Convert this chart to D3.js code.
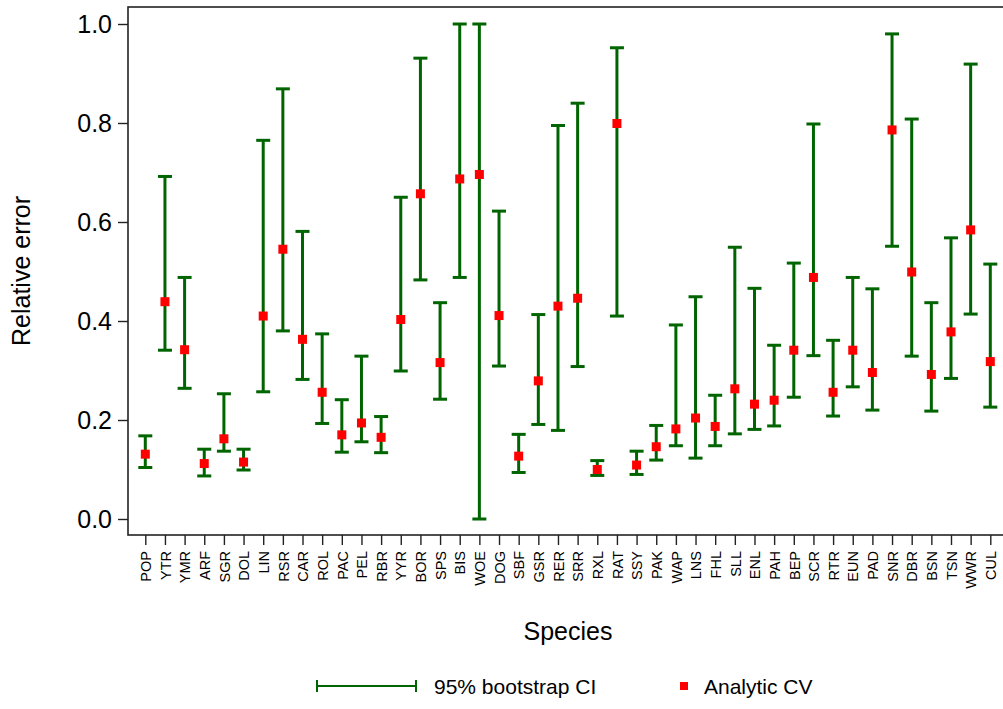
<!DOCTYPE html>
<html>
<head>
<meta charset="utf-8">
<script src="https://cdn.jsdelivr.net/npm/d3@7"></script>
<style>
  html, body { margin: 0; padding: 0; background: #fff; }
  svg { display: block; font-family: "Liberation Sans", Arial, sans-serif; }
</style>
</head>
<body>
<svg id="chart" width="1003" height="709"></svg>
<script>
const species = ["POP","YTR","YMR","ARF","SGR","DOL","LIN","RSR","CAR","ROL","PAC","PEL","RBR","YYR","BOR","SPS","BIS","WOE","DOG","SBF","GSR","RER","SRR","RXL","RAT","SSY","PAK","WAP","LNS","FHL","SLL","ENL","PAH","BEP","SCR","RTR","EUN","PAD","SNR","DBR","BSN","TSN","WWR","CUL"];
const analyticCV = [0.131,0.439,0.342,0.112,0.162,0.115,0.410,0.545,0.363,0.256,0.170,0.194,0.165,0.403,0.657,0.316,0.687,0.696,0.411,0.127,0.279,0.430,0.446,0.100,0.799,0.109,0.146,0.182,0.204,0.187,0.263,0.232,0.240,0.341,0.488,0.256,0.341,0.296,0.786,0.499,0.292,0.378,0.584,0.318];
const ciLower = [0.104,0.341,0.264,0.087,0.137,0.099,0.257,0.380,0.282,0.193,0.135,0.156,0.134,0.299,0.483,0.242,0.488,0.000,0.309,0.094,0.191,0.179,0.308,0.088,0.410,0.090,0.119,0.148,0.123,0.148,0.172,0.181,0.188,0.246,0.330,0.208,0.267,0.220,0.551,0.329,0.218,0.284,0.414,0.226];
const ciUpper = [0.168,0.692,0.488,0.141,0.253,0.141,0.765,0.869,0.581,0.374,0.241,0.329,0.207,0.650,0.931,0.437,1.000,1.000,0.622,0.171,0.413,0.795,0.840,0.118,0.952,0.137,0.189,0.392,0.449,0.250,0.549,0.466,0.351,0.517,0.798,0.361,0.488,0.465,0.980,0.808,0.437,0.568,0.919,0.515];
const yTicks = [0, 0.2, 0.4, 0.6, 0.8, 1.0];

const data = species.map((s, i) => ({s, cv: analyticCV[i], lo: ciLower[i], hi: ciUpper[i]}));

const svg = d3.select("#chart");
const green = "#006400", red = "#ff0000";

const plot = {left: 128, right: 1008, top: 7, bottom: 535};

const x = d3.scalePoint().domain(species).range([145.3, 990.3]);
const y = d3.scaleLinear().domain([0, 1]).range([519, 24]);

// frame
svg.append("rect")
  .attr("x", plot.left).attr("y", plot.top)
  .attr("width", plot.right - plot.left).attr("height", plot.bottom - plot.top)
  .attr("fill", "none").attr("stroke", "#222").attr("stroke-width", 1.6);

// y axis
const yAxis = svg.append("g").attr("transform", `translate(${plot.left},0)`)
  .call(d3.axisLeft(y).tickValues(yTicks).tickFormat(d3.format(".1f")).tickSize(10).tickPadding(6));
yAxis.select(".domain").remove();
yAxis.selectAll(".tick line").attr("stroke", "#222").attr("stroke-width", 1.4);
yAxis.selectAll(".tick text").attr("font-size", 25).attr("fill", "#000")
  .attr("font-family", "Liberation Sans, Arial, sans-serif");

// x axis
const xAxis = svg.append("g").attr("transform", `translate(0,${plot.bottom})`)
  .call(d3.axisBottom(x).tickSize(10).tickPadding(0));
xAxis.select(".domain").remove();
xAxis.selectAll(".tick line").attr("stroke", "#222").attr("stroke-width", 1.4);
xAxis.selectAll(".tick text")
  .attr("font-size", 14.5).attr("fill", "#000")
  .attr("font-family", "Liberation Sans, Arial, sans-serif")
  .attr("text-anchor", "end")
  .attr("transform", "rotate(-90)")
  .attr("x", -16).attr("y", 0).attr("dy", "0.36em");

// error bars
const cap = 7;
const bars = svg.append("g").attr("stroke", green).attr("stroke-width", 3).attr("fill", "none");
bars.selectAll("line.v").data(data).join("line").attr("class", "v")
  .attr("x1", d => x(d.s)).attr("x2", d => x(d.s))
  .attr("y1", d => y(d.lo)).attr("y2", d => y(d.hi));
bars.selectAll("line.t").data(data).join("line").attr("class", "t")
  .attr("x1", d => x(d.s) - cap).attr("x2", d => x(d.s) + cap)
  .attr("y1", d => y(d.hi)).attr("y2", d => y(d.hi));
bars.selectAll("line.b").data(data).join("line").attr("class", "b")
  .attr("x1", d => x(d.s) - cap).attr("x2", d => x(d.s) + cap)
  .attr("y1", d => y(d.lo)).attr("y2", d => y(d.lo));

// points
const sq = 9;
svg.append("g").selectAll("rect").data(data).join("rect")
  .attr("x", d => x(d.s) - sq / 2).attr("y", d => y(d.cv) - sq / 2)
  .attr("width", sq).attr("height", sq).attr("fill", red);

// axis titles
svg.append("text")
  .attr("transform", `translate(30,271) rotate(-90)`)
  .attr("text-anchor", "middle").attr("font-size", 25).attr("fill", "#000")
  .text("Relative error");
svg.append("text")
  .attr("x", 568).attr("y", 640)
  .attr("text-anchor", "middle").attr("font-size", 25).attr("fill", "#000")
  .text("Species");

// legend
const lg = svg.append("g");
const ly = 686;
lg.append("line").attr("x1", 317).attr("x2", 416).attr("y1", ly).attr("y2", ly)
  .attr("stroke", green).attr("stroke-width", 2);
[317, 416].forEach(px => lg.append("line").attr("x1", px).attr("x2", px)
  .attr("y1", ly - 6).attr("y2", ly + 6).attr("stroke", green).attr("stroke-width", 2));
lg.append("text").attr("x", 434).attr("y", ly + 8).attr("font-size", 21).attr("fill", "#000")
  .text("95% bootstrap CI");
lg.append("rect").attr("x", 680).attr("y", ly - 4).attr("width", 8).attr("height", 8).attr("fill", red);
lg.append("text").attr("x", 704).attr("y", ly + 8).attr("font-size", 21).attr("fill", "#000")
  .text("Analytic CV");
</script>
</body>
</html>
